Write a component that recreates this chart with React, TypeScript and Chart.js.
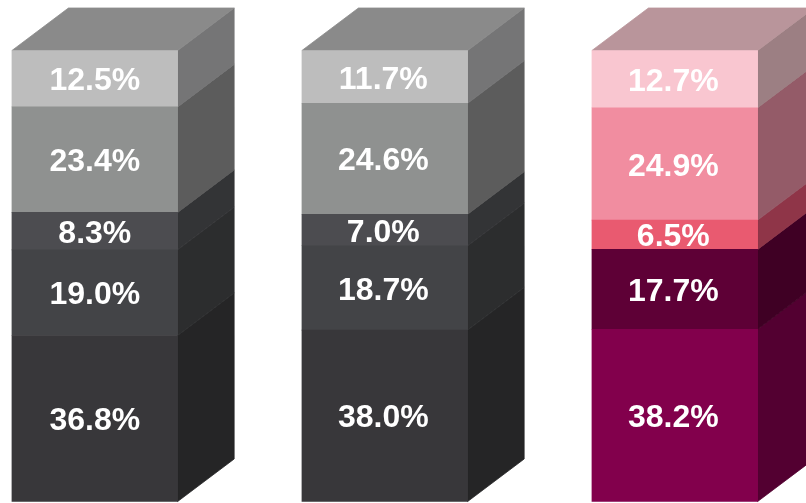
import React, { useEffect, useRef } from "react";
import { Chart, registerables } from "chart.js";

Chart.register(...registerables);

const categories = ["A", "B", "C"];
// Stacked shares, bottom segment first
const segment1 = [36.8, 38.0, 38.2];
const segment2 = [19.0, 18.7, 17.7];
const segment3 = [8.3, 7.0, 6.5];
const segment4 = [23.4, 24.6, 24.9];
const segment5 = [12.5, 11.7, 12.7];

const greyFront = ["#38373a", "#434447", "#4c4c50", "#8f9190", "#bdbdbd"];
const greySide = ["#252526", "#2c2d2e", "#333436", "#5c5c5c", "#757576"];
const greyTop = "#8a8a8a";
const pinkFront = ["#82004c", "#5e0036", "#e95a70", "#f18da0", "#f9c6d0"];
const pinkSide = ["#530031", "#3f0024", "#8f3548", "#945b68", "#9c7f83"];
const pinkTop = "#b9959b";

const series = [segment1, segment2, segment3, segment4, segment5];
const DEPTH_X = 56.5;
const DEPTH_Y = 42.5;

const cube = {
  id: "cube",
  beforeDatasetsDraw(chart: any) {
    const ctx = chart.ctx;
    ctx.save();
    ctx.lineWidth = 0.8;
    series.forEach((_, d) => {
      chart.getDatasetMeta(d).data.forEach((bar: any, i: number) => {
        const right = bar.x + bar.width / 2;
        const side = i === 2 ? pinkSide[d] : greySide[d];
        ctx.fillStyle = side;
        ctx.strokeStyle = side;
        ctx.beginPath();
        ctx.moveTo(right, bar.y);
        ctx.lineTo(right + DEPTH_X, bar.y - DEPTH_Y);
        ctx.lineTo(right + DEPTH_X, bar.base - DEPTH_Y);
        ctx.lineTo(right, bar.base);
        ctx.closePath();
        ctx.fill();
        ctx.stroke();
        if (d === series.length - 1) {
          const left = bar.x - bar.width / 2;
          const top = i === 2 ? pinkTop : greyTop;
          ctx.fillStyle = top;
          ctx.strokeStyle = top;
          ctx.beginPath();
          ctx.moveTo(left, bar.y);
          ctx.lineTo(left + DEPTH_X, bar.y - DEPTH_Y);
          ctx.lineTo(right + DEPTH_X, bar.y - DEPTH_Y);
          ctx.lineTo(right, bar.y);
          ctx.closePath();
          ctx.fill();
          ctx.stroke();
        }
      });
    });
    ctx.restore();
  },
  afterDatasetsDraw(chart: any) {
    const ctx = chart.ctx;
    ctx.save();
    ctx.fillStyle = "#ffffff";
    ctx.font = 'bold 32px "Liberation Sans", Arial, sans-serif';
    ctx.textAlign = "center";
    ctx.textBaseline = "middle";
    series.forEach((values, d) => {
      chart.getDatasetMeta(d).data.forEach((bar: any, i: number) => {
        const nudge = i === 0 ? 0 : -1.5;
        ctx.fillText(values[i].toFixed(1) + "%", bar.x + nudge, (bar.y + bar.base) / 2 + 2.8);
      });
    });
    ctx.restore();
  },
};

export default function App() {
  const ref = useRef<HTMLCanvasElement>(null);
  useEffect(() => {
    const chart = new Chart(ref.current!, {
      type: "bar",
      data: {
        labels: categories,
        datasets: series.map((values, d) => ({
          data: values,
          backgroundColor: [greyFront[d], greyFront[d], pinkFront[d]],
          borderWidth: 0,
          barThickness: 165.7,
          clip: false as any,
        })),
      },
      options: {
        animation: false,
        responsive: false,
        layout: { padding: { left: 94.8, right: 131.2, top: 50.5, bottom: 1.5 } },
        plugins: { legend: { display: false }, tooltip: { enabled: false } },
        scales: {
          x: { display: false, stacked: true, offset: false },
          y: { display: false, stacked: true, min: 0, max: 100 },
        },
      },
      plugins: [cube],
    });
    return () => chart.destroy();
  }, []);
  return (
    <canvas
      ref={ref}
      width={806}
      height={503}
      style={{ position: "absolute", left: 0, top: 0, width: 806, height: 503 }}
    />
  );
}
